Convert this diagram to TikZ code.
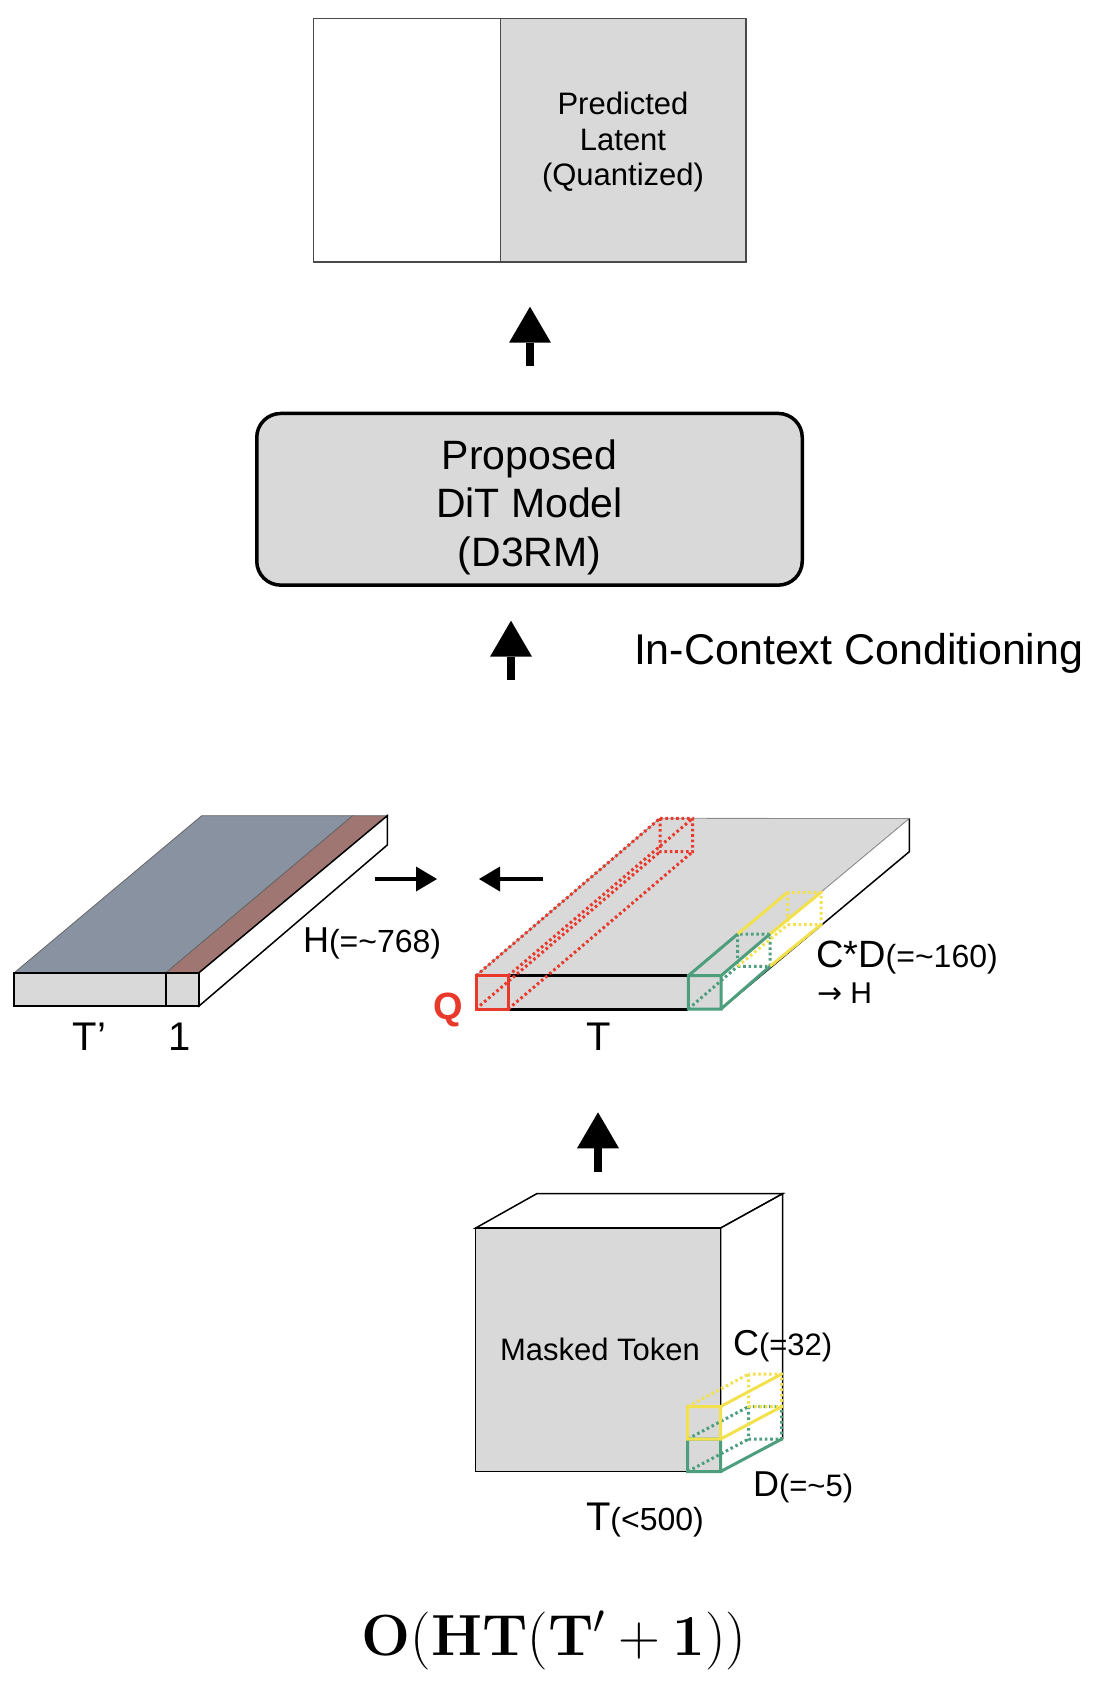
\RequirePackage{fix-cm}
\documentclass[tikz,border=0pt]{standalone}
\usepackage[no-math]{fontspec}
\setmainfont{Liberation Sans}
\newfontfamily\dejavu{DejaVu Sans}
\usetikzlibrary{arrows.meta}
\definecolor{boxgray}{HTML}{D9D9D9}
\definecolor{boxedge}{HTML}{4A4A4A}
\definecolor{slabblue}{HTML}{8892A0}
\definecolor{slabbrown}{HTML}{A07672}
\definecolor{qred}{HTML}{E8392B}
\definecolor{tgreen}{HTML}{4C9E7C}
\definecolor{tyellow}{HTML}{F2E14C}
\newcommand{\fsz}[1]{\fontsize{#1}{#1}\selectfont}
\begin{document}
\begin{tikzpicture}[x=1pt,y=-1pt,
  lbl/.style={inner sep=0pt, outer sep=0pt, anchor=base west},
  bigarrow/.style={line width=8.5pt, -{Triangle[width=42pt,length=36pt,line width=0pt]}},
  smallarrow/.style={line width=4.8pt, -{Triangle[width=25pt,length=21pt,line width=0pt]}},
  qdot/.style={draw=qred, line width=3pt, dash pattern=on 2.6pt off 2.8pt},
  gdot/.style={draw=tgreen, line width=3pt, dash pattern=on 2.6pt off 2.8pt},
  ydot/.style={draw=tyellow, line width=3pt, dash pattern=on 2.6pt off 2.8pt},
  gsolid/.style={draw=tgreen, line width=3pt},
  ysolid/.style={draw=tyellow, line width=3pt},
]
\useasboundingbox (0,0) rectangle (1094,1682);

% ---------- Predicted latent box ----------
\node[draw=boxedge, fill=white, line width=1.2pt, minimum width=186.6pt, minimum height=243.7pt,
      inner sep=0pt, outer sep=0pt, anchor=north west] (latL) at (313.7,18.3) {};
\node[draw=boxedge, fill=boxgray, line width=1.2pt, minimum width=245.7pt, minimum height=243.7pt,
      inner sep=0pt, outer sep=0pt, anchor=north west] (latR) at (500.3,18.3) {};
\node[lbl, anchor=base] (pl1) at (623,114) {\fsz{31}Predicted};
\node[lbl, anchor=base] (pl2) at (623,150) {\fsz{31}Latent};
\node[lbl, anchor=base] (pl3) at (623,185.5) {\fsz{31}(Quantized)};

% ---------- arrow DiT -> latent ----------
\coordinate (a1s) at (530,366);
\coordinate (a1e) at (530,306.7);
\draw[bigarrow] (a1s) -- (a1e);

% ---------- DiT box ----------
\node[draw=black, fill=boxgray, line width=3.5pt, rounded corners=24pt, minimum width=545.5pt,
      minimum height=171.7pt, inner sep=0pt, outer sep=0pt] (dit) at (529.5,499.3) {};
\node[lbl, anchor=base] (dt1) at (529.5,469) {\fsz{41}Proposed};
\node[lbl, anchor=base] (dt2) at (529.5,517.7) {\fsz{41}DiT Model};
\node[lbl, anchor=base] (dt3) at (529.5,566) {\fsz{41}(D3RM)};

% ---------- arrow conditioning -> DiT ----------
\coordinate (a2s) at (511,680);
\coordinate (a2e) at (511,620.7);
\draw[bigarrow] (a2s) -- (a2e);
\node[lbl] (icc) at (634,664) {\fsz{43}In-Context Conditioning};

% ---------- left slab ----------
\filldraw[fill=slabblue, draw=black!60, line width=0.8pt] (14.3,972.7) -- (201.7,815.7) -- (352.7,815.7) -- (166,972.7) -- cycle;
\filldraw[fill=slabbrown, draw=black!60, line width=0.8pt] (166,972.7) -- (352.7,815.7) -- (387.3,815.7) -- (199,972.7) -- cycle;
\filldraw[fill=white, draw=black, line width=1.5pt] (199,972.7) -- (387.3,815.7) -- (387.3,845) -- (199,1006) -- cycle;
\filldraw[fill=boxgray, draw=black, line width=2pt] (14.3,972.7) rectangle (199,1006);
\draw[line width=1.5pt] (166,972.7) -- (166,1006);
\node[lbl] (hlab) at (303,952) {\fsz{36}H\fsz{32}(=\textasciitilde768)};
\node[lbl] (tplab) at (72.7,1050) {\fsz{40}T’};
\node[lbl, anchor=base] (onelab) at (180,1050) {\fsz{40}1};

% ---------- merge arrows ----------
\coordinate (m1s) at (375,879);
\coordinate (m1e) at (437,879);
\draw[smallarrow] (m1s) -- (m1e);
\coordinate (m2s) at (543,879);
\coordinate (m2e) at (479,879);
\draw[smallarrow] (m2s) -- (m2e);

% ---------- right slab ----------
\filldraw[fill=boxgray, draw=black!45, line width=0.8pt] (476,975.7) -- (660,818.3) -- (909.3,818.5) -- (721,975.7) -- cycle;
\fill[white] (721,975.7) -- (909.3,818.5) -- (909.3,851.7) -- (721,1009) -- cycle;
\draw[black!45, line width=0.8pt] (721,975.7) -- (909.3,818.5);
\draw[black, line width=1.5pt] (909.3,818.5) -- (909.3,851.7) -- (721,1009);
\fill[boxgray] (476,975.7) rectangle (721,1009);
\draw[line width=3pt] (508.3,975.7) -- (688.3,975.7) (508.3,1009) -- (688.3,1009);
% red query prism
\draw[qdot] (476,975.7) -- (660,818.3) (508.3,975.7) -- (692.7,818.3)
            (476,1009) -- (660,851.7) (508.3,1009) -- (692.7,851.7)
            (660,818.3) rectangle (692.7,851.7);
\draw[draw=qred, line width=3pt] (476,975.7) rectangle (508.3,1009);
% green / yellow prisms
\draw[gdot] (688.3,1009) -- (737.7,966.3) (737.7,934) rectangle (770,966.3);
\draw[ydot] (737.7,966.3) -- (787.7,924.6) (787.7,892.3) rectangle (821,924.6);
\draw[ysolid] (737.7,934) -- (787.7,892.3) (770,934) -- (821,892.3) (770,966.3) -- (821,924.6);
\draw[gsolid] (688.3,975.7) rectangle (721,1009) (688.3,975.7) -- (737.7,934)
              (721,975.7) -- (770,934) (721,1009) -- (770,966.3);
\node[lbl, text=qred] (qlab) at (433,1019) {\fsz{38}\bfseries Q};
\node[lbl, anchor=base] (tlab) at (599,1050) {\fsz{40}T};
\node[lbl] (cdlab) at (816,967.7) {\fsz{38}C*D\fsz{32}(=\textasciitilde160)};
\node[lbl] (tohlab) at (817,1003.3) {\fsz{30}{\dejavu →} H};

% ---------- arrow cube -> slab ----------
\coordinate (a3s) at (598,1172.3);
\coordinate (a3e) at (598,1112.3);
\draw[bigarrow] (a3s) -- (a3e);

% ---------- cube ----------
\filldraw[fill=white, draw=black, line width=1.5pt] (475.7,1228) -- (536.7,1193.7) -- (782.7,1193.7) -- (720.7,1228) -- cycle;
\filldraw[fill=white, draw=black, line width=1.5pt] (720.7,1228) -- (782.7,1193.7) -- (782.7,1438.7) -- (720.7,1471.5) -- cycle;
\filldraw[fill=boxgray, draw=black, line width=1.5pt] (475.7,1228) rectangle (720.7,1471.5);
\draw[gdot] (687.7,1439) -- (748.7,1406.5) (687.7,1471.5) -- (748.7,1439) (748.7,1406.5) rectangle (781.7,1439);
\draw[ydot] (687.7,1406.5) -- (748.7,1374) (748.7,1374) rectangle (781.7,1406.5);
\draw[gsolid] (687.7,1439) rectangle (720.7,1471.5) (720.7,1471.5) -- (781.7,1439);
\draw[ysolid] (687.7,1406.5) rectangle (720.7,1439) (720.7,1406.5) -- (781.7,1374) (720.7,1439) -- (781.7,1406.5);
\node[lbl, anchor=base] (mtok) at (600,1360.7) {\fsz{31}Masked Token};
\node[lbl] (clab) at (733,1355) {\fsz{36}C\fsz{31}(=32)};
\node[lbl] (dlab) at (753,1496.7) {\fsz{36}D\fsz{31}(=\textasciitilde5)};
\node[lbl] (tblab) at (586,1530) {\fsz{40}T\fsz{32}(<500)};

% ---------- complexity ----------
\node[lbl, anchor=base] (cplx) at (554,1655) {\fsz{58}$\mathbf{O}(\mathbf{HT}(\mathbf{T}'+\mathbf{1}))$};
\end{tikzpicture}
\end{document}
